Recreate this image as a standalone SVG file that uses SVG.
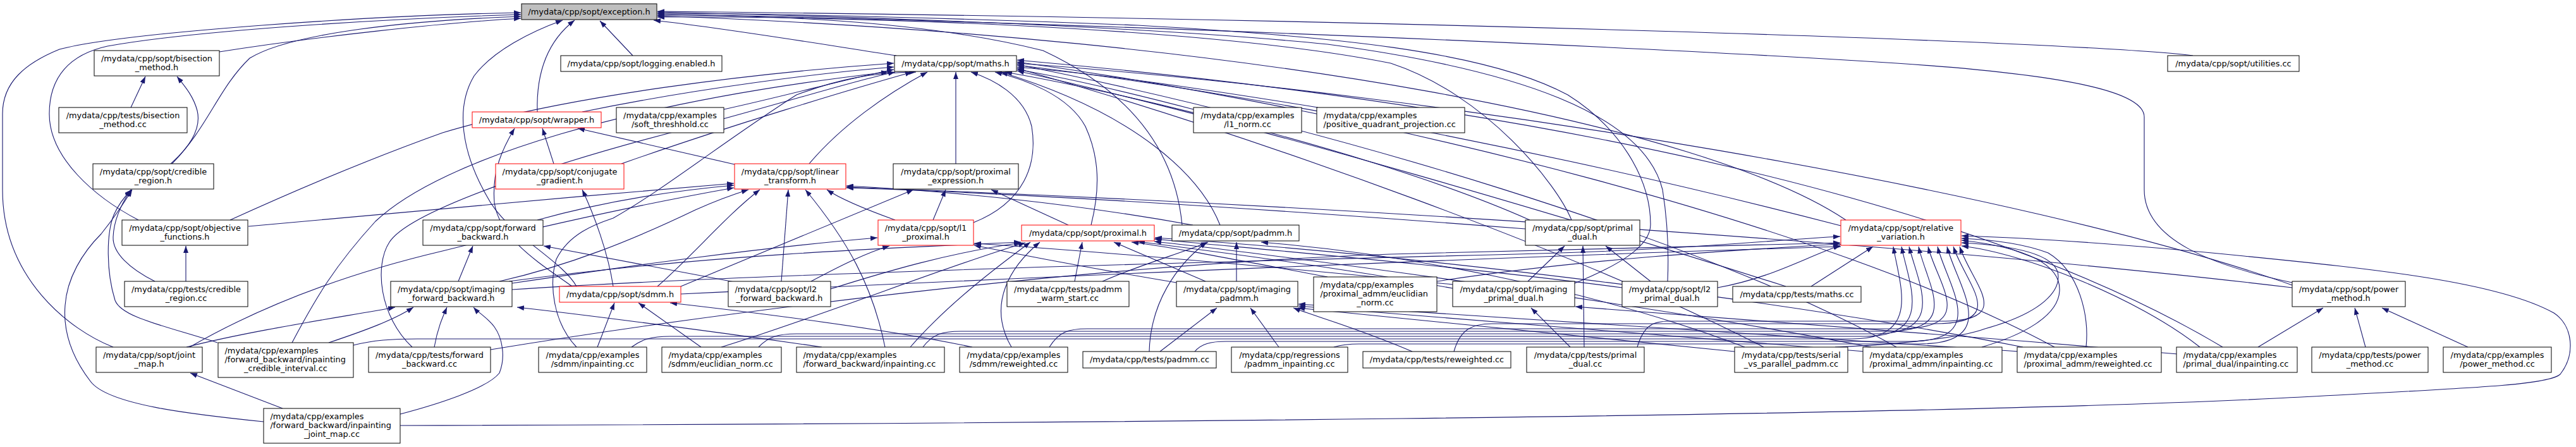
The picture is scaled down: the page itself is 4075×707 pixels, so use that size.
<svg xmlns="http://www.w3.org/2000/svg" width="4075" height="707" viewBox="0 0 4075 707">
<defs>
<marker id="ah" viewBox="0 0 11 8" refX="11" refY="4" markerWidth="11" markerHeight="8" orient="auto" markerUnits="userSpaceOnUse"><path d="M0,0 L11,4 L0,8 z" fill="#191970"/></marker>
<style>
.n rect{fill:#fff;stroke:#000;stroke-width:1}
.n.r rect{stroke:#ff0000}
.n.root rect{fill:#bfbfbf}
text{font-family:"DejaVu Sans","Liberation Sans",sans-serif;font-size:12.9px;fill:#000}
.m{text-anchor:middle}
.s{text-anchor:start}
#edges path{fill:none;stroke:#191970;stroke-width:1.1;marker-end:url(#ah)}
</style>
</defs>
<rect width="4075" height="707" fill="#fff"/>
<g id="edges">
<path d="M347,82 C500,58 700,36 824,29"/>
<path d="M207,170 L230,121"/>
<path d="M270,259 C305,228 318,200 312,175 C306,152 292,136 280,121"/>
<path d="M272,259 C330,200 345,140 395,92 C460,52 650,32 824,26"/>
<path d="M219,348 C150,312 78,250 78,180 C78,122 110,86 170,73 C320,46 650,28 824,23"/>
<path d="M364,348 C430,318 560,260 700,210 C900,150 1200,115 1414,100"/>
<path d="M393,358 C600,338 900,312 1161,290"/>
<path d="M294,445 L294,389"/>
<path d="M245,445 C205,425 178,400 179,375 C180,345 195,318 207,300"/>
<path d="M179,549 C110,522 4,440 4,300 L4,180 C4,130 40,100 94,78 C200,50 600,24 824,20"/>
<path d="M295,549 C400,522 550,500 625,486"/>
<path d="M300,549 C420,480 560,430 700,397 C880,352 1020,322 1161,297"/>
<path d="M344,542 C260,515 192,502 182,475 C168,430 168,370 180,340 C188,322 198,310 208,300"/>
<path d="M520,542 C580,522 625,505 654,486"/>
<path d="M462,542 C500,470 530,420 594,350 C700,250 1000,160 1405,114"/>
<path d="M559,546 C590,538 620,536 660,536 L2930,536 C3040,536 3005,450 2995,390"/>
<path d="M447,646 L301,590"/>
<path d="M417,667 C300,655 170,640 143,603 C110,560 100,520 103,483 C106,440 130,400 160,370 C180,345 198,318 209,300"/>
<path d="M633,655 C690,640 770,615 790,590 C800,565 795,535 782,517 C772,503 757,495 749,486"/>
<path d="M633,673 C1500,671 3000,660 3600,630 C3900,614 4030,610 4050,592 C4075,560 4070,515 4040,495 C3950,445 3750,425 3550,405 C3350,385 3200,376 3103,373"/>
<path d="M687,549 C692,520 700,502 707,486"/>
<path d="M776,553 C1100,500 1700,420 2200,402 C2500,394 2750,388 2911,384"/>
<path d="M652,549 C600,500 592,420 616,383 C650,330 900,250 1100,200 C1250,160 1360,125 1416,114"/>
<path d="M850,348 C950,320 1050,303 1161,293"/>
<path d="M725,445 L748,389"/>
<path d="M810,448 C1000,420 1200,392 1388,376"/>
<path d="M805,445 C1100,405 1400,392 1615,383"/>
<path d="M790,445 C900,420 1000,380 1100,332 C1140,314 1168,305 1184,300"/>
<path d="M810,458 C1200,432 2000,412 2400,402 C2650,396 2800,380 2911,374"/>
<path d="M850,177 C848,110 870,62 909,32"/>
<path d="M921,177 C1100,140 1300,115 1414,106"/>
<path d="M876,259 L858,203"/>
<path d="M983,259 C1150,200 1350,140 1443,114"/>
<path d="M1162,260 L914,203"/>
<path d="M1280,259 C1330,200 1400,150 1467,114"/>
<path d="M912,453 C888,410 800,370 770,310 C730,240 720,170 750,120 C780,80 840,50 890,32"/>
<path d="M905,453 C860,420 790,380 782,320 C778,270 795,235 814,203"/>
<path d="M970,453 C962,400 940,340 921,300"/>
<path d="M1040,453 C1100,400 1150,340 1202,300"/>
<path d="M1077,453 L1445,300"/>
<path d="M1077,465 C1500,445 2300,408 2912,390"/>
<path d="M1145,173 C1250,150 1350,122 1414,110"/>
<path d="M1888,173 C1800,150 1700,125 1609,110"/>
<path d="M2085,170 C1900,140 1750,118 1609,106"/>
<path d="M1512,259 L1512,114"/>
<path d="M1476,348 L1496,300"/>
<path d="M1540,352 C1620,320 1642,260 1632,200 C1620,150 1570,125 1536,114"/>
<path d="M1416,348 C1380,335 1330,315 1308,300"/>
<path d="M1690,356 L1568,300"/>
<path d="M1726,356 C1740,300 1740,250 1717,200 C1690,150 1620,125 1574,114"/>
<path d="M1887,356 C1700,322 1500,302 1339,294"/>
<path d="M1870,356 C1860,250 1800,150 1650,80 C1450,30 1200,24 1040,24"/>
<path d="M1930,356 C1900,280 1800,180 1583,114"/>
<path d="M2486,348 C2464,293 2352,150 2200,100 C1900,40 1300,25 1040,27"/>
<path d="M2413,362 C2000,330 1600,305 1339,297"/>
<path d="M2420,348 C2200,250 1800,150 1590,114"/>
<path d="M2491,448 C2560,420 2611,390 2611,355 C2611,280 2560,200 2480,150 C2350,80 2100,57 1800,40 C1500,28 1200,21 1040,21"/>
<path d="M2417,445 L2475,389"/>
<path d="M2298,450 C2000,420 1700,395 1541,385"/>
<path d="M2298,456 C2100,420 1900,395 1800,382"/>
<path d="M2611,445 L2540,389"/>
<path d="M2638,445 C2640,400 2638,350 2630,300 C2600,180 2400,110 2100,70 C1800,40 1300,25 1040,19"/>
<path d="M2566,455 C2300,420 2000,395 1826,378"/>
<path d="M2717,455 C2800,440 2850,410 2911,388"/>
<path d="M1236,445 L1247,300"/>
<path d="M1167,447 L860,389"/>
<path d="M1283,445 C1330,420 1370,400 1407,389"/>
<path d="M1314,457 C1400,430 1500,400 1615,384"/>
<path d="M945,549 L972,479"/>
<path d="M912,549 C875,510 868,450 880,410 C900,370 940,355 970,345 C1050,300 1150,220 1260,150 C1330,124 1380,115 1449,114"/>
<path d="M999,549 C1015,537 1030,532 1060,532 L2950,532 C3060,532 3020,450 3008,390"/>
<path d="M1109,549 L1010,479"/>
<path d="M1141,549 C1300,500 1500,420 1622,384"/>
<path d="M1200,549 C1215,533 1230,528 1260,528 L2965,528 C3080,528 3035,450 3020,390"/>
<path d="M1300,549 C1100,520 900,495 818,486"/>
<path d="M1400,549 C1380,450 1340,380 1274,300"/>
<path d="M1440,549 C1500,480 1580,420 1630,383"/>
<path d="M1460,549 C1475,529 1490,524 1520,524 L2985,524 C3105,524 3048,450 3035,390"/>
<path d="M1538,549 C1400,520 1200,495 1060,479"/>
<path d="M1600,549 C1560,480 1600,420 1645,383"/>
<path d="M1660,549 C1675,525 1690,520 1720,520 L3005,520 C3130,520 3065,450 3050,390"/>
<path d="M1700,445 L1712,383"/>
<path d="M1744,445 C1800,420 1870,400 1911,383"/>
<path d="M1818,556 C1820,480 1860,420 1909,383"/>
<path d="M1835,556 L1925,487"/>
<path d="M1890,556 C1900,544 1915,540 1940,540 L3020,540 C3150,540 3080,450 3065,390"/>
<path d="M2023,549 L1978,487"/>
<path d="M2110,549 C2120,546 2130,544 2150,544 L3035,544 C3170,544 3095,450 3080,390"/>
<path d="M1956,445 L1956,383"/>
<path d="M1861,447 C1700,420 1600,400 1541,388"/>
<path d="M1907,445 L1762,383"/>
<path d="M2100,438 C1950,410 1850,390 1790,383"/>
<path d="M2273,445 C2500,410 2750,395 2911,386"/>
<path d="M2234,556 C2150,520 2080,500 2046,487"/>
<path d="M2300,556 C2310,520 2330,512 2360,512 L3060,512 C3180,512 3110,450 3090,390"/>
<path d="M2506,549 L2504,389"/>
<path d="M2484,549 L2422,487"/>
<path d="M2590,549 C2600,515 2615,508 2640,508 L3070,508 C3190,508 3120,450 3100,390"/>
<path d="M2865,453 L2963,390"/>
<path d="M2825,453 C2500,350 2000,200 1609,112"/>
<path d="M2903,549 C3000,545 3100,535 3140,520 C3230,495 3262,460 3255,430 C3245,400 3180,388 3103,384"/>
<path d="M2790,549 C2500,400 2000,220 1609,108"/>
<path d="M2760,549 C2500,450 2200,400 1995,383"/>
<path d="M2744,556 C2400,520 2200,500 2053,487"/>
<path d="M3135,549 C3200,530 3256,500 3258,460 C3260,420 3210,392 3103,380"/>
<path d="M3000,549 C2700,380 2100,200 1609,102"/>
<path d="M2960,549 C2600,480 2000,400 1826,382"/>
<path d="M2950,556 C2600,530 2300,505 2054,484"/>
<path d="M3300,549 C3305,500 3290,430 3240,400 C3200,385 3150,379 3103,377"/>
<path d="M3250,549 C2900,360 2200,180 1609,98"/>
<path d="M3200,549 C2800,470 2200,400 1827,376"/>
<path d="M3195,556 C2800,530 2400,505 2054,481"/>
<path d="M3572,549 L3675,487"/>
<path d="M3445,560 C3100,530 2700,500 2492,485"/>
<path d="M3516,549 C3300,420 2800,200 1609,95"/>
<path d="M3480,549 C3380,470 3200,400 3103,389"/>
<path d="M3742,549 L3725,487"/>
<path d="M3904,549 L3768,487"/>
<path d="M3626,447 C3500,420 3392,380 3392,300 L3392,185 C3392,150 3300,120 3000,100 C2500,68 1600,33 1040,22"/>
<path d="M3626,455 C3000,380 2000,320 1339,296"/>
<path d="M3626,451 C3200,300 2300,150 1609,100"/>
<path d="M2912,357 C2500,250 2000,150 1609,103"/>
<path d="M2920,348 C2700,200 2000,60 1040,25"/>
<path d="M3469,88 C3300,66 2200,30 1040,18"/>
<path d="M1418,88 C1300,70 1150,45 1034,32"/>
<path d="M1001,88 L949,33"/>
</g>
<g id="n_exception" class="n root"><rect x="825" y="6" width="214" height="25"/><text class="m" x="932" y="22.5">/mydata/cpp/sopt/exception.h</text></g>
<g id="n_bisection_h" class="n"><rect x="149" y="80" width="198" height="40"/><text class="m"><tspan x="248" y="97">/mydata/cpp/sopt/bisection</tspan><tspan x="248" y="111">_method.h</tspan></text></g>
<g id="n_tests_bisection" class="n"><rect x="93" y="170" width="203" height="40"/><text class="m"><tspan x="194.5" y="187">/mydata/cpp/tests/bisection</tspan><tspan x="194.5" y="201">_method.cc</tspan></text></g>
<g id="n_credible_h" class="n"><rect x="147" y="259" width="191" height="40"/><text class="m"><tspan x="242.5" y="276">/mydata/cpp/sopt/credible</tspan><tspan x="242.5" y="290">_region.h</tspan></text></g>
<g id="n_objective" class="n"><rect x="193" y="348" width="199" height="40"/><text class="m"><tspan x="292.5" y="365">/mydata/cpp/sopt/objective</tspan><tspan x="292.5" y="379">_functions.h</tspan></text></g>
<g id="n_tests_credible" class="n"><rect x="197" y="445" width="195" height="40"/><text class="m"><tspan x="294.5" y="462">/mydata/cpp/tests/credible</tspan><tspan x="294.5" y="476">_region.cc</tspan></text></g>
<g id="n_joint_map" class="n"><rect x="152" y="549" width="168" height="40"/><text class="m"><tspan x="236" y="566">/mydata/cpp/sopt/joint</tspan><tspan x="236" y="580">_map.h</tspan></text></g>
<g id="n_fb_credible" class="n"><rect x="345" y="542" width="214" height="55"/><text><tspan class="s" x="355.5" y="558.5">/mydata/cpp/examples</tspan><tspan class="s" x="355.5" y="573">/forward_backward/inpainting</tspan><tspan class="m" x="452" y="587">_credible_interval.cc</tspan></text></g>
<g id="n_tests_fb" class="n"><rect x="583" y="549" width="193" height="40"/><text class="m"><tspan x="679.5" y="566">/mydata/cpp/tests/forward</tspan><tspan x="679.5" y="580">_backward.cc</tspan></text></g>
<g id="n_fb_joint_map" class="n"><rect x="417" y="646" width="216" height="55"/><text><tspan class="s" x="427.5" y="662.5">/mydata/cpp/examples</tspan><tspan class="s" x="427.5" y="677">/forward_backward/inpainting</tspan><tspan class="m" x="525" y="691">_joint_map.cc</tspan></text></g>
<g id="n_forward_backward" class="n"><rect x="669" y="348" width="190" height="40"/><text class="m"><tspan x="764" y="365">/mydata/cpp/sopt/forward</tspan><tspan x="764" y="379">_backward.h</tspan></text></g>
<g id="n_imaging_fb" class="n"><rect x="618" y="445" width="192" height="40"/><text class="m"><tspan x="714" y="462">/mydata/cpp/sopt/imaging</tspan><tspan x="714" y="476">_forward_backward.h</tspan></text></g>
<g id="n_logging" class="n"><rect x="887" y="88" width="255" height="25"/><text class="m" x="1014.5" y="104.5">/mydata/cpp/sopt/logging.enabled.h</text></g>
<g id="n_wrapper" class="n r"><rect x="747" y="177" width="204" height="25"/><text class="m" x="849" y="193.5">/mydata/cpp/sopt/wrapper.h</text></g>
<g id="n_soft" class="n"><rect x="975" y="170" width="170" height="40"/><text class="m"><tspan x="1060" y="187">/mydata/cpp/examples</tspan><tspan x="1060" y="201">/soft_threshhold.cc</tspan></text></g>
<g id="n_conjugate" class="n r"><rect x="784" y="259" width="203" height="40"/><text class="m"><tspan x="885.5" y="276">/mydata/cpp/sopt/conjugate</tspan><tspan x="885.5" y="290">_gradient.h</tspan></text></g>
<g id="n_linear" class="n r"><rect x="1162" y="259" width="176" height="40"/><text class="m"><tspan x="1250" y="276">/mydata/cpp/sopt/linear</tspan><tspan x="1250" y="290">_transform.h</tspan></text></g>
<g id="n_maths" class="n"><rect x="1415" y="88" width="193" height="25"/><text class="m" x="1511.5" y="104.5">/mydata/cpp/sopt/maths.h</text></g>
<g id="n_l1_norm" class="n"><rect x="1888" y="170" width="171" height="40"/><text class="m"><tspan x="1973.5" y="187">/mydata/cpp/examples</tspan><tspan x="1973.5" y="201">/l1_norm.cc</tspan></text></g>
<g id="n_prox_expr" class="n"><rect x="1413" y="259" width="198" height="40"/><text class="m"><tspan x="1512" y="276">/mydata/cpp/sopt/proximal</tspan><tspan x="1512" y="290">_expression.h</tspan></text></g>
<g id="n_l1_prox" class="n r"><rect x="1389" y="348" width="151" height="40"/><text class="m"><tspan x="1464.5" y="365">/mydata/cpp/sopt/l1</tspan><tspan x="1464.5" y="379">_proximal.h</tspan></text></g>
<g id="n_proximal" class="n r"><rect x="1616" y="356" width="210" height="25"/><text class="m" x="1721" y="372.5">/mydata/cpp/sopt/proximal.h</text></g>
<g id="n_padmm" class="n"><rect x="1854" y="356" width="201" height="25"/><text class="m" x="1954.5" y="372.5">/mydata/cpp/sopt/padmm.h</text></g>
<g id="n_pqp" class="n"><rect x="2083" y="170" width="234" height="40"/><text class="s"><tspan x="2093.5" y="187">/mydata/cpp/examples</tspan><tspan x="2093.5" y="201">/positive_quadrant_projection.cc</tspan></text></g>
<g id="n_primal_dual" class="n"><rect x="2413" y="348" width="181" height="40"/><text class="m"><tspan x="2503.5" y="365">/mydata/cpp/sopt/primal</tspan><tspan x="2503.5" y="379">_dual.h</tspan></text></g>
<g id="n_relative" class="n r"><rect x="2912" y="348" width="190" height="40"/><text class="m"><tspan x="3007" y="365">/mydata/cpp/sopt/relative</tspan><tspan x="3007" y="379">_variation.h</tspan></text></g>
<g id="n_utilities" class="n"><rect x="3429" y="88" width="208" height="25"/><text class="m" x="3533" y="104.5">/mydata/cpp/sopt/utilities.cc</text></g>
<g id="n_sdmm" class="n r"><rect x="885" y="453" width="192" height="25"/><text class="m" x="981" y="469.5">/mydata/cpp/sopt/sdmm.h</text></g>
<g id="n_l2_fb" class="n"><rect x="1152" y="445" width="162" height="40"/><text><tspan class="s" x="1162.5" y="462">/mydata/cpp/sopt/l2</tspan><tspan class="m" x="1233" y="476">_forward_backward.h</tspan></text></g>
<g id="n_sdmm_inp" class="n"><rect x="852" y="549" width="171" height="40"/><text class="m"><tspan x="937.5" y="566">/mydata/cpp/examples</tspan><tspan x="937.5" y="580">/sdmm/inpainting.cc</tspan></text></g>
<g id="n_sdmm_eucl" class="n"><rect x="1047" y="549" width="189" height="40"/><text class="s"><tspan x="1057.5" y="566">/mydata/cpp/examples</tspan><tspan x="1057.5" y="580">/sdmm/euclidian_norm.cc</tspan></text></g>
<g id="n_fb_inp" class="n"><rect x="1260" y="549" width="234" height="40"/><text class="s"><tspan x="1270.5" y="566">/mydata/cpp/examples</tspan><tspan x="1270.5" y="580">/forward_backward/inpainting.cc</tspan></text></g>
<g id="n_sdmm_rew" class="n"><rect x="1518" y="549" width="171" height="40"/><text class="m"><tspan x="1603.5" y="566">/mydata/cpp/examples</tspan><tspan x="1603.5" y="580">/sdmm/reweighted.cc</tspan></text></g>
<g id="n_padmm_warm" class="n"><rect x="1593" y="445" width="193" height="40"/><text class="m"><tspan x="1689.5" y="462">/mydata/cpp/tests/padmm</tspan><tspan x="1689.5" y="476">_warm_start.cc</tspan></text></g>
<g id="n_imaging_padmm" class="n"><rect x="1861" y="445" width="192" height="40"/><text class="m"><tspan x="1957" y="462">/mydata/cpp/sopt/imaging</tspan><tspan x="1957" y="476">_padmm.h</tspan></text></g>
<g id="n_tests_padmm" class="n"><rect x="1713" y="556" width="211" height="26"/><text class="m" x="1818.5" y="573">/mydata/cpp/tests/padmm.cc</text></g>
<g id="n_reg_padmm" class="n"><rect x="1948" y="549" width="184" height="40"/><text class="m"><tspan x="2040" y="566">/mydata/cpp/regressions</tspan><tspan x="2040" y="580">/padmm_inpainting.cc</tspan></text></g>
<g id="n_padmm_eucl" class="n"><rect x="2078" y="438" width="195" height="55"/><text><tspan class="s" x="2088.5" y="454.5">/mydata/cpp/examples</tspan><tspan class="s" x="2088.5" y="469">/proximal_admm/euclidian</tspan><tspan class="m" x="2175.5" y="483">_norm.cc</tspan></text></g>
<g id="n_imaging_pd" class="n"><rect x="2298" y="445" width="193" height="40"/><text class="m"><tspan x="2394.5" y="462">/mydata/cpp/sopt/imaging</tspan><tspan x="2394.5" y="476">_primal_dual.h</tspan></text></g>
<g id="n_l2_pd" class="n"><rect x="2566" y="445" width="151" height="40"/><text class="m"><tspan x="2641.5" y="462">/mydata/cpp/sopt/l2</tspan><tspan x="2641.5" y="476">_primal_dual.h</tspan></text></g>
<g id="n_tests_rew" class="n"><rect x="2156" y="556" width="234" height="26"/><text class="m" x="2273" y="573">/mydata/cpp/tests/reweighted.cc</text></g>
<g id="n_tests_pd" class="n"><rect x="2415" y="549" width="186" height="40"/><text class="m"><tspan x="2508" y="566">/mydata/cpp/tests/primal</tspan><tspan x="2508" y="580">_dual.cc</tspan></text></g>
<g id="n_tests_maths" class="n"><rect x="2741" y="453" width="203" height="25"/><text class="m" x="2842.5" y="469.5">/mydata/cpp/tests/maths.cc</text></g>
<g id="n_serial" class="n"><rect x="2744" y="549" width="179" height="40"/><text class="m"><tspan x="2833.5" y="566">/mydata/cpp/tests/serial</tspan><tspan x="2833.5" y="580">_vs_parallel_padmm.cc</tspan></text></g>
<g id="n_padmm_inp" class="n"><rect x="2947" y="549" width="220" height="40"/><text class="s"><tspan x="2957.5" y="566">/mydata/cpp/examples</tspan><tspan x="2957.5" y="580">/proximal_admm/inpainting.cc</tspan></text></g>
<g id="n_padmm_rew" class="n"><rect x="3191" y="549" width="228" height="40"/><text class="s"><tspan x="3201.5" y="566">/mydata/cpp/examples</tspan><tspan x="3201.5" y="580">/proximal_admm/reweighted.cc</tspan></text></g>
<g id="n_power_h" class="n"><rect x="3626" y="445" width="179" height="40"/><text class="m"><tspan x="3715.5" y="462">/mydata/cpp/sopt/power</tspan><tspan x="3715.5" y="476">_method.h</tspan></text></g>
<g id="n_pd_inp" class="n"><rect x="3443" y="549" width="191" height="40"/><text class="s"><tspan x="3453.5" y="566">/mydata/cpp/examples</tspan><tspan x="3453.5" y="580">/primal_dual/inpainting.cc</tspan></text></g>
<g id="n_tests_power" class="n"><rect x="3657" y="549" width="184" height="40"/><text class="m"><tspan x="3749" y="566">/mydata/cpp/tests/power</tspan><tspan x="3749" y="580">_method.cc</tspan></text></g>
<g id="n_ex_power" class="n"><rect x="3865" y="549" width="171" height="40"/><text class="m"><tspan x="3950.5" y="566">/mydata/cpp/examples</tspan><tspan x="3950.5" y="580">/power_method.cc</tspan></text></g>
</svg>
